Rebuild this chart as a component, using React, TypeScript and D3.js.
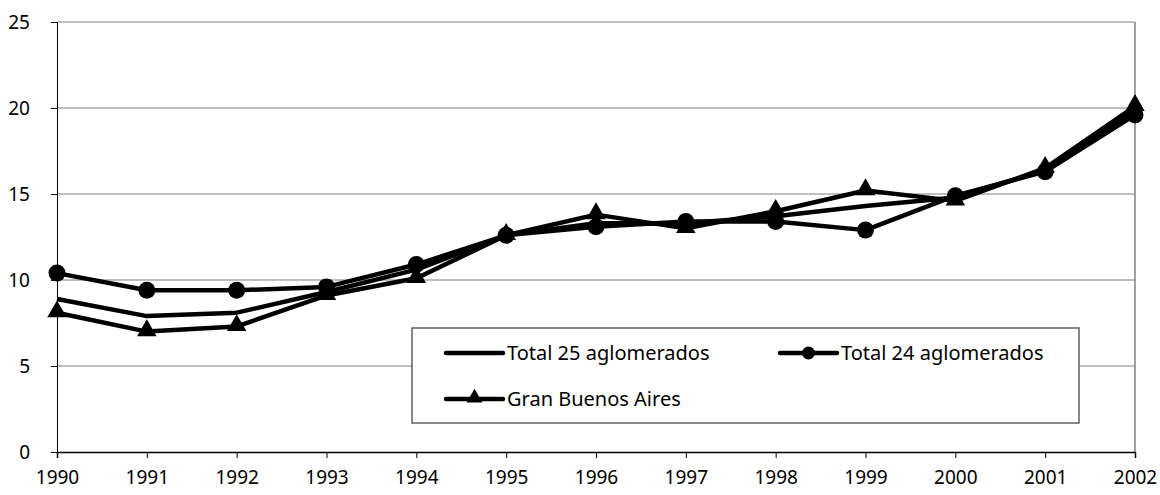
import * as d3 from "d3";
import { useEffect, useRef } from "react";

const years = [1990, 1991, 1992, 1993, 1994, 1995, 1996, 1997, 1998, 1999, 2000, 2001, 2002];
const total25 = [8.9, 7.9, 8.1, 9.3, 10.6, 12.6, 13.3, 13.3, 13.7, 14.3, 14.8, 16.4, 19.8];
const total24 = [10.4, 9.4, 9.4, 9.6, 10.9, 12.6, 13.1, 13.4, 13.4, 12.9, 14.9, 16.3, 19.6];
const gba = [8.1, 7.0, 7.3, 9.1, 10.1, 12.6, 13.8, 13.0, 14.0, 15.2, 14.6, 16.5, 20.1];
const yTicks = [0, 5, 10, 15, 20, 25];

type Series = { name: string; values: number[]; marker: "none" | "circle" | "triangle" };

const series: Series[] = [
  { name: "Total 25 aglomerados", values: total25, marker: "none" },
  { name: "Total 24 aglomerados", values: total24, marker: "circle" },
  { name: "Gran Buenos Aires", values: gba, marker: "triangle" },
];

export default function App() {
  const ref = useRef<SVGSVGElement | null>(null);

  useEffect(() => {
    if (!ref.current) return;
    const svg = d3.select(ref.current);
    svg.selectAll("*").remove();

    const width = 1160;
    const height = 495;
    const font = "'Noto Sans', sans-serif";

    const x = d3.scaleLinear().domain([1990, 2002]).range([57, 1135]);
    const y = d3.scaleLinear().domain([0, 25]).range([452, 22]);

    svg.attr("width", width).attr("height", height);
    svg.append("rect").attr("width", width).attr("height", height).attr("fill", "#fff");

    // gridlines
    svg
      .append("g")
      .selectAll("line")
      .data(yTicks.filter((t) => t > 0))
      .join("line")
      .attr("x1", x(1990))
      .attr("x2", x(2002))
      .attr("y1", (d) => y(d))
      .attr("y2", (d) => y(d))
      .attr("stroke", "#808080")
      .attr("stroke-width", 1);

    // right border of plot area
    svg
      .append("line")
      .attr("x1", x(2002))
      .attr("x2", x(2002))
      .attr("y1", y(25))
      .attr("y2", y(0))
      .attr("stroke", "#808080")
      .attr("stroke-width", 1.5);

    // y axis
    const yAxis = svg
      .append("g")
      .attr("transform", `translate(${x(1990)},0)`)
      .call(d3.axisLeft(y).tickValues(yTicks).tickSize(6).tickPadding(21));
    yAxis.select(".domain").attr("stroke", "#000");
    yAxis.selectAll(".tick line").attr("stroke", "#000");
    yAxis.selectAll("text").attr("font-family", font).attr("font-size", 19).attr("fill", "#000");

    // x axis
    const xAxis = svg
      .append("g")
      .attr("transform", `translate(0,${y(0)})`)
      .call(
        d3
          .axisBottom(x)
          .tickValues(years)
          .tickFormat((d) => String(d))
          .tickSize(6)
          .tickPadding(13)
      );
    xAxis.select(".domain").attr("stroke", "#000").attr("stroke-width", 1.5);
    xAxis.selectAll(".tick line").attr("stroke", "#000");
    xAxis.selectAll("text").attr("font-family", font).attr("font-size", 19).attr("fill", "#000");

    const line = d3
      .line<number>()
      .x((_d, i) => x(years[i]))
      .y((d) => y(d));

    const triangle = d3.symbol().type(d3.symbolTriangle).size(165);

    series.forEach((s) => {
      svg
        .append("path")
        .attr("d", line(s.values))
        .attr("fill", "none")
        .attr("stroke", "#000")
        .attr("stroke-width", 4.5)
        .attr("stroke-linejoin", "round");

      if (s.marker === "circle") {
        svg
          .append("g")
          .selectAll("circle")
          .data(s.values)
          .join("circle")
          .attr("cx", (_d, i) => x(years[i]))
          .attr("cy", (d) => y(d))
          .attr("r", 8.5)
          .attr("fill", "#000");
      } else if (s.marker === "triangle") {
        svg
          .append("g")
          .selectAll("path")
          .data(s.values)
          .join("path")
          .attr("d", triangle()!)
          .attr("transform", (d, i) => `translate(${x(years[i])},${y(d) - 1})`)
          .attr("fill", "#000");
      }
    });

    // legend
    const lg = svg.append("g").attr("transform", "translate(412,328)");
    lg.append("rect")
      .attr("width", 667)
      .attr("height", 95)
      .attr("fill", "#fff")
      .attr("stroke", "#606060")
      .attr("stroke-width", 1.5);

    const pos = [
      { x: 34, y: 25 },
      { x: 368, y: 25 },
      { x: 34, y: 71 },
    ];
    series.forEach((s, i) => {
      const g = lg.append("g").attr("transform", `translate(${pos[i].x},${pos[i].y})`);
      g.append("line")
        .attr("x1", 0)
        .attr("x2", 57)
        .attr("stroke", "#000")
        .attr("stroke-width", 4.5)
        .attr("stroke-linecap", "round");
      if (s.marker === "circle") {
        g.append("circle").attr("cx", 28.5).attr("r", 6.5).attr("fill", "#000");
      } else if (s.marker === "triangle") {
        g.append("path")
          .attr("d", d3.symbol().type(d3.symbolTriangle).size(110)()!)
          .attr("transform", "translate(28.5,-1)")
          .attr("fill", "#000");
      }
      g.append("text")
        .attr("x", 61)
        .attr("dy", "0.35em")
        .attr("font-family", font)
        .attr("font-size", 20)
        .attr("fill", "#000")
        .text(s.name);
    });
  }, []);

  return <svg ref={ref} style={{ position: "absolute", left: 0, top: 0, display: "block" }} />;
}
